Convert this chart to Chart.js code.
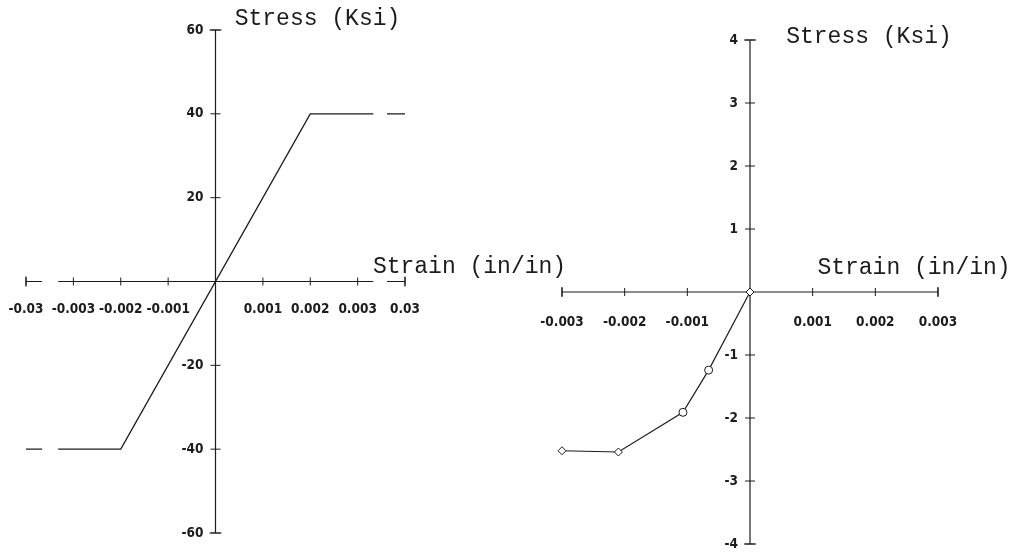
<!DOCTYPE html>
<html>
<head>
<meta charset="utf-8">
<script src="https://cdn.jsdelivr.net/npm/chart.js@4/dist/chart.umd.min.js"></script>
<style>
  html, body { margin: 0; padding: 0; background: #fff; }
  #wrap { position: relative; width: 1010px; height: 554px; overflow: hidden; }
  canvas { position: absolute; top: 0; }
  #steelChart { left: 0; }
  #concreteChart { left: 520px; }
</style>
</head>
<body>
<div id="wrap">
  <canvas id="steelChart" width="580" height="554"></canvas>
  <canvas id="concreteChart" width="490" height="554"></canvas>
</div>
<script>
// steel (left) - bilinear, broken strain axis beyond +-0.003
const steelStrain = [-0.03, -0.002, 0.002, 0.03];
const steelStress = [-40, -40, 40, 40];
const steelStrainTicks = [-0.03, -0.003, -0.002, -0.001, 0.001, 0.002, 0.003, 0.03];
const steelStressTicks = [-60, -40, -20, 20, 40, 60];

// concrete (right)
const concreteStrain = [-0.003, -0.0021, -0.00107, -0.00066, 0];
const concreteStress = [-2.52, -2.54, -1.91, -1.24, 0];
const concreteMarkers = ['rectRot', 'rectRot', 'circle', 'circle', 'rectRot'];
const concreteStrainTicks = [-0.003, -0.002, -0.001, 0.001, 0.002, 0.003];
const concreteStressTicks = [-4, -3, -2, -1, 1, 2, 3, 4];

const INK = '#1c1c1c';
const tickFont = 'bold 13.5px "DejaVu Sans Condensed", "Liberation Sans Narrow", sans-serif';
const titleFont = '23px "Liberation Mono", "DejaVu Sans Mono", monospace';

// position on the broken steel axis: 1 unit per 0.001 up to 0.003, then one unit for the rest to 0.03
function steelAxisPos(s) {
  const a = Math.abs(s);
  const p = a <= 0.003 ? a * 1000 : 3 + (a - 0.003) / 0.027;
  return Math.sign(s) * p;
}
function plainPos(s) { return s; }

function crossAxes(o) {
  return {
    id: 'crossAxes',
    beforeDatasetsDraw(chart) {
      const ctx = chart.ctx, xs = chart.scales.x, ys = chart.scales.y;
      const x0 = xs.getPixelForValue(0), y0 = ys.getPixelForValue(0);
      const xl = xs.getPixelForValue(xs.min), xr = xs.getPixelForValue(xs.max);
      const yt = ys.getPixelForValue(ys.max), yb = ys.getPixelForValue(ys.min);
      ctx.save();
      ctx.strokeStyle = INK;
      ctx.lineWidth = 1.2;
      ctx.beginPath();
      ctx.moveTo(xl, y0); ctx.lineTo(xr, y0);
      ctx.moveTo(x0, yt); ctx.lineTo(x0, yb);
      // end caps
      ctx.moveTo(xl, y0 - 5); ctx.lineTo(xl, y0 + 5);
      ctx.moveTo(xr, y0 - 5); ctx.lineTo(xr, y0 + 5);
      ctx.moveTo(x0 - 6, yt); ctx.lineTo(x0 + 6, yt);
      ctx.moveTo(x0 - 6, yb); ctx.lineTo(x0 + 6, yb);
      ctx.stroke();
      ctx.lineWidth = 1;
      ctx.beginPath();
      o.xTicks.forEach(v => {
        const p = xs.getPixelForValue(o.xPos(v));
        ctx.moveTo(p, y0 - 4); ctx.lineTo(p, y0 + 4);
      });
      o.yTicks.forEach(v => {
        const p = ys.getPixelForValue(v);
        ctx.moveTo(x0 - 5, p); ctx.lineTo(x0 + 5, p);
      });
      ctx.stroke();
      ctx.restore();
    },
    afterDatasetsDraw(chart) {
      const ctx = chart.ctx, xs = chart.scales.x, ys = chart.scales.y;
      const x0 = xs.getPixelForValue(0), y0 = ys.getPixelForValue(0);
      ctx.save();
      // axis breaks cut both the axis and the curve
      ctx.fillStyle = '#fff';
      (o.breaks || []).forEach(b => {
        const a = xs.getPixelForValue(b[0]), c = xs.getPixelForValue(b[1]);
        ctx.fillRect(a, chart.chartArea.top, c - a, chart.chartArea.bottom - chart.chartArea.top);
      });
      ctx.fillStyle = INK;
      ctx.font = tickFont;
      ctx.textAlign = 'center';
      ctx.textBaseline = 'middle';
      o.xTicks.forEach(v => {
        ctx.fillText(String(v), xs.getPixelForValue(o.xPos(v)), y0 + o.xLabelDy);
      });
      ctx.textAlign = 'right';
      o.yTicks.forEach(v => {
        ctx.fillText(String(v), x0 - 12, ys.getPixelForValue(v));
      });
      ctx.font = titleFont;
      ctx.textAlign = 'center';
      ctx.fillText('Stress (Ksi)', x0 + o.yTitle[0], ys.getPixelForValue(ys.max) + o.yTitle[1]);
      ctx.fillText('Strain (in/in)', x0 + o.xTitle[0], y0 + o.xTitle[1]);
      ctx.restore();
    }
  };
}

function baseOptions(xMin, xMax, yMin, yMax, pad) {
  return {
    responsive: false,
    animation: false,
    devicePixelRatio: 1,
    layout: { padding: pad },
    plugins: { legend: { display: false }, tooltip: { enabled: false } },
    scales: {
      x: { type: 'linear', min: xMin, max: xMax, display: false },
      y: { type: 'linear', min: yMin, max: yMax, display: false }
    }
  };
}

new Chart(document.getElementById('steelChart'), {
  type: 'line',
  data: {
    datasets: [{
      data: steelStrain.map((s, i) => ({ x: steelAxisPos(s), y: steelStress[i] })),
      borderColor: INK,
      borderWidth: 1.3,
      pointRadius: 0,
      fill: false,
      clip: false,
      tension: 0
    }]
  },
  options: baseOptions(-4, 4, -60, 60, { left: 26, right: 175, top: 30, bottom: 21 }),
  plugins: [crossAxes({
    xTicks: steelStrainTicks, yTicks: steelStressTicks, xPos: steelAxisPos,
    breaks: [[-3.66, -3.32], [3.33, 3.62]],
    xLabelDy: 28, yTitle: [102, -11], xTitle: [254, -15]
  })]
});

new Chart(document.getElementById('concreteChart'), {
  type: 'line',
  data: {
    datasets: [{
      data: concreteStrain.map((s, i) => ({ x: s, y: concreteStress[i] })),
      borderColor: INK,
      borderWidth: 1.2,
      pointStyle: concreteMarkers,
      pointRadius: 4,
      pointBorderWidth: 1,
      pointBorderColor: INK,
      pointBackgroundColor: '#fff',
      fill: false,
      clip: false,
      tension: 0
    }]
  },
  options: baseOptions(-0.003, 0.003, -4, 4, { left: 42, right: 72, top: 40, bottom: 10 }),
  plugins: [crossAxes({
    xTicks: concreteStrainTicks, yTicks: concreteStressTicks, xPos: plainPos,
    xLabelDy: 30, yTitle: [119, -3], xTitle: [164, -24]
  })]
});
</script>
</body>
</html>
